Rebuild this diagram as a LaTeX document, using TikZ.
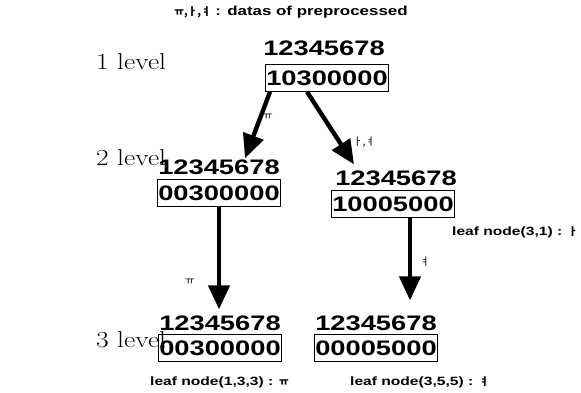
\documentclass[tikz,border=0pt]{standalone}
\usepackage{fontspec}
\usepackage{graphicx}
\usetikzlibrary{arrows.meta,calc}
\newfontfamily\bsans[FakeStretch=1.3]{Liberation Sans}
\newfontfamily\kor{Noto Sans CJK KR}
\tikzset{
  numtxt/.style={inner sep=0pt, font=\bsans\bfseries\fontsize{21}{21}\selectfont},
  numbox/.style={numtxt, draw, line width=0.6pt, inner xsep=1pt, inner ysep=2pt, minimum width=118pt, minimum height=27pt},
  lvl/.style={anchor=west, inner sep=0pt},
  lbl/.style={inner sep=0pt, font=\bsans\bfseries\fontsize{12}{12}\selectfont},
  jam/.style={inner sep=0pt, font=\kor\fontsize{10.5}{10.5}\selectfont},
  bigarrow/.style={line width=4.4pt, -{Triangle[length=24pt,width=21pt]}},
}
\newcommand{\lvltext}[1]{\scalebox{1.2}[1]{\fontsize{23}{23}\selectfont #1}}
\newcommand{\jm}[1]{{\kor\fontsize{10.5}{10.5}\selectfont #1}}
\begin{document}
\begin{tikzpicture}[x=1pt,y=1pt]
\useasboundingbox (0,0) rectangle (581,392);
% title
\node[lbl, font=\bsans\bfseries\fontsize{13}{13}\selectfont] (title) at (291,380) {\jm{ㅠ,ㅏ,ㅕ} : datas of preprocessed};
% levels
\node[lvl] (lv1) at (96,330) {\lvltext{1 level}};
\node[lvl] (lv2) at (96,234) {\lvltext{2 level}};
\node[lvl] (lv3) at (96,52) {\lvltext{3 level}};
% top
\node[numtxt] (t1) at (324,344) {12345678};
\node[numbox] (t2) at (327,314) {10300000};
% level 2 left
\node[numtxt] (a1) at (219,225) {12345678};
\node[numbox] (a2) at (219,199) {00300000};
% level 2 right
\node[numtxt] (b1) at (396,214) {12345678};
\node[numbox] (b2) at (393,188) {10005000};
% level 3 left
\node[numtxt] (c1) at (220,69) {12345678};
\node[numbox] (c2) at (220,44) {00300000};
% level 3 right
\node[numtxt] (d1) at (376,69) {12345678};
\node[numbox] (d2) at (376,44) {00005000};
% helper coordinates
\coordinate (s3) at (a2.south);
\coordinate (e3) at ($(s3 |- c1.north)+(0,6)$);
\coordinate (s4) at ([xshift=17pt]b2.south);
\coordinate (e4) at ($(s4 |- d1.north)+(0,15)$);
% arrows
\draw[bigarrow] ([xshift=-57pt]t2.south) -- ([xshift=26pt,yshift=1pt]a1.north);
\draw[bigarrow] ([xshift=-20pt]t2.south) -- ([xshift=-42pt,yshift=6pt]b1.north);
\draw[bigarrow] (s3) -- (e3);
\draw[bigarrow] (s4) -- (e4);
% arrow labels
\node[jam] (j1) at (268,275) {ㅠ};
\node[jam] (j2) at (364,250) {ㅏ,ㅕ};
\node[jam] (j3) at (190,110) {ㅠ};
\node[jam] (j4) at (425,130) {ㅕ};
% leaf labels
\node[lbl, anchor=west] (l1) at (452,160) {leaf node(3,1) : \jm{ㅏ}};
\node[lbl, anchor=west] (l2) at (150,10) {leaf node(1,3,3) : \jm{ㅠ}};
\node[lbl, anchor=west] (l3) at (350,10) {leaf node(3,5,5) : \jm{ㅕ}};
\end{tikzpicture}
\end{document}
